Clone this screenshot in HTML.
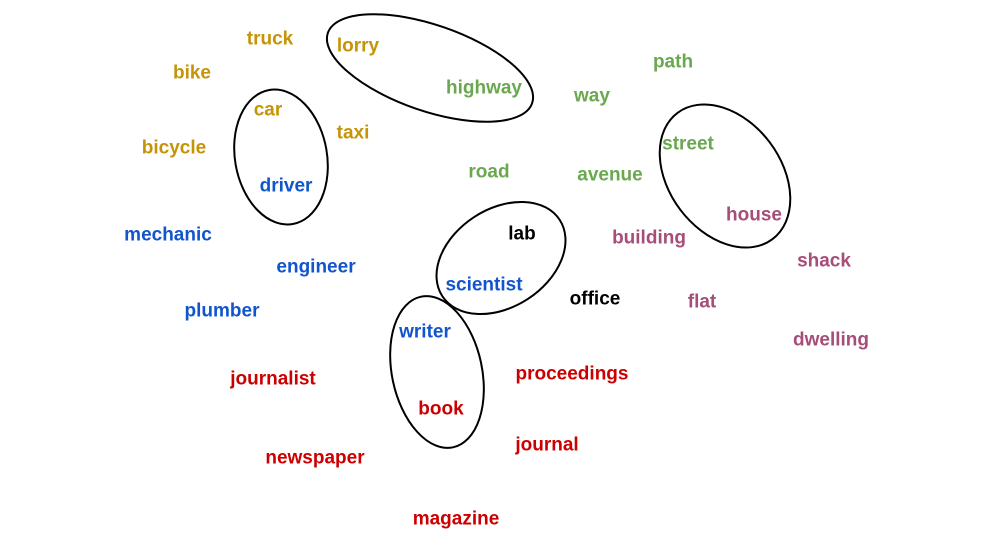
<!DOCTYPE html>
<html><head><meta charset="utf-8"><style>
html,body{margin:0;padding:0;background:#fff;}
svg{display:block;}
text{font-family:"Liberation Sans",sans-serif;font-weight:bold;font-size:19px;text-anchor:middle;dominant-baseline:central;}
.y{fill:#c59407}.g{fill:#6aa84f}.b{fill:#1155cc}.r{fill:#cc0000}.p{fill:#a64d79}.k{fill:#000}
ellipse{fill:none;stroke:#000;stroke-width:2;}
</style></head><body>
<svg width="1008" height="534" viewBox="0 0 1008 534">
<ellipse cx="430" cy="68" rx="108" ry="43" transform="rotate(19 430 68)"/>
<ellipse cx="281" cy="157" rx="46" ry="68" transform="rotate(-10 281 157)"/>
<ellipse cx="725" cy="176" rx="56" ry="79" transform="rotate(-37 725 176)"/>
<ellipse cx="501" cy="258" rx="70" ry="49" transform="rotate(-33 501 258)"/>
<ellipse cx="437" cy="372" rx="45" ry="77" transform="rotate(-12 437 372)"/>
<text class="y" x="270" y="39">truck</text>
<text class="y" x="358" y="46">lorry</text>
<text class="y" x="192" y="73">bike</text>
<text class="y" x="268" y="110">car</text>
<text class="y" x="353" y="133">taxi</text>
<text class="y" x="174" y="148">bicycle</text>
<text class="g" x="484" y="88">highway</text>
<text class="g" x="673" y="62">path</text>
<text class="g" x="592" y="96">way</text>
<text class="g" x="688" y="144">street</text>
<text class="g" x="489" y="172">road</text>
<text class="g" x="610" y="175">avenue</text>
<text class="b" x="286" y="186">driver</text>
<text class="b" x="168" y="235">mechanic</text>
<text class="b" x="316" y="267">engineer</text>
<text class="b" x="484" y="285">scientist</text>
<text class="b" x="222" y="311">plumber</text>
<text class="b" x="425" y="332">writer</text>
<text class="k" x="522" y="234">lab</text>
<text class="k" x="595" y="299">office</text>
<text class="p" x="754" y="215">house</text>
<text class="p" x="649" y="238">building</text>
<text class="p" x="824" y="261">shack</text>
<text class="p" x="702" y="302">flat</text>
<text class="p" x="831" y="340">dwelling</text>
<text class="r" x="273" y="379">journalist</text>
<text class="r" x="572" y="374">proceedings</text>
<text class="r" x="441" y="409">book</text>
<text class="r" x="547" y="445">journal</text>
<text class="r" x="315" y="458">newspaper</text>
<text class="r" x="456" y="519">magazine</text>
</svg>
</body></html>
